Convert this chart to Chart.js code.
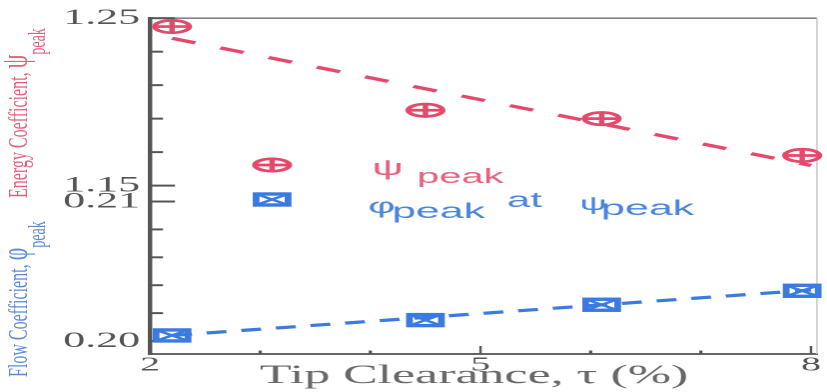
<!DOCTYPE html>
<html>
<head>
<meta charset="utf-8">
<script src="https://cdn.jsdelivr.net/npm/chart.js@4/dist/chart.umd.min.js"></script>
<style>
  html, body { margin: 0; padding: 0; background: #fff; overflow: hidden; }
  #wrap { width: 414px; height: 392px; transform: scale(1.99758, 1); transform-origin: 0 0; }
  canvas { display: block; }
</style>
</head>
<body>
<div id="wrap"><canvas id="c" width="414" height="392" style="width:414px;height:392px"></canvas></div>
<script>
// Tip clearance (%) of each measured configuration
const tipClearance = [2.2, 4.5, 6.1, 7.92];
// Peak energy coefficient, psi_peak
const psiPeak = [1.245, 1.195, 1.190, 1.168];
// Flow coefficient at psi_peak
const phiPeak = [0.2004, 0.2015, 0.2026, 0.2036];
// Straight-line trends drawn through each series
const trendX = [2.2, 8];
const psiTrend = [1.238, 1.162];
const phiTrend = [0.2004, 0.20366];
// Axis ticks and their labels (blank = unlabelled minor tick)
const xTicks = [2, 3, 4, 5, 6, 7, 8];
const xTickLabels = ['2', '', '', '5', '', '', '8'];
const psiTicks = [1.15, 1.17, 1.19, 1.21, 1.23, 1.25];
const psiTickLabels = ['1.15', '', '', '', '', '1.25'];
const phiTicks = [0.200, 0.202, 0.204, 0.206, 0.208, 0.210];
const phiTickLabels = ['0.20', '', '', '', '', '0.21'];

const RED = '#e5486a';
const BLUE = '#3b7ade';
const AXIS = '#555555';
const LABEL = '#555555';
const SERIF = '"Liberation Serif", "Times New Roman", serif';
const SANS = '"Liberation Sans", Arial, sans-serif';
const TICK_FONT = `22px ${SERIF}`;

const pts = (xs, ys) => xs.map((x, i) => ({ x, y: ys[i] }));

function circleCross(ctx, x, y, color) {
  const rx = 8.7, ry = 6.2;
  ctx.save();
  ctx.strokeStyle = color;
  ctx.lineWidth = 2.7;
  ctx.beginPath();
  ctx.ellipse(x, y, rx, ry, 0, 0, Math.PI * 2);
  ctx.stroke();
  ctx.beginPath();
  ctx.moveTo(x - rx, y); ctx.lineTo(x + rx, y);
  ctx.moveTo(x, y - ry); ctx.lineTo(x, y + ry);
  ctx.stroke();
  ctx.restore();
}

function boxCross(ctx, x, y, color) {
  const w = 16, h = 11;
  ctx.save();
  ctx.strokeStyle = color;
  ctx.lineWidth = 3.4;
  ctx.strokeRect(x - w / 2, y - h / 2, w, h);
  ctx.lineWidth = 2.2;
  ctx.beginPath();
  ctx.moveTo(x - w / 2, y - h / 2); ctx.lineTo(x + w / 2, y + h / 2);
  ctx.moveTo(x - w / 2, y + h / 2); ctx.lineTo(x + w / 2, y - h / 2);
  ctx.stroke();
  ctx.restore();
}

// Rotated axis title with a symbol and a lowered "peak" subscript
function rotatedTitle(ctx, x, y, parts) {
  ctx.save();
  ctx.translate(x, y);
  ctx.rotate(-Math.PI / 2);
  ctx.scale(1, 0.88);
  ctx.textAlign = 'left';
  ctx.textBaseline = 'alphabetic';
  let pos = 0;
  for (const p of parts) {
    ctx.font = p.font;
    ctx.fillStyle = p.color;
    ctx.fillText(p.text, pos, p.dy || 0);
    pos += ctx.measureText(p.text).width;
  }
  ctx.restore();
}

function textRun(ctx, items) {
  ctx.save();
  ctx.textAlign = 'left';
  ctx.textBaseline = 'alphabetic';
  for (const t of items) {
    ctx.font = t.font;
    ctx.fillStyle = t.color;
    ctx.fillText(t.text, t.x, t.y);
  }
  ctx.restore();
}

const decor = {
  id: 'decor',
  beforeDatasetsDraw(chart) {
    const { ctx, chartArea: a, scales } = chart;
    ctx.save();
    ctx.lineCap = 'butt';
    // top and right edges of the plot frame
    ctx.strokeStyle = '#858585';
    ctx.lineWidth = 1.6;
    ctx.beginPath(); ctx.moveTo(a.left, a.top); ctx.lineTo(a.right, a.top); ctx.stroke();
    ctx.strokeStyle = '#c8c8c8';
    ctx.lineWidth = 0.8;
    ctx.beginPath(); ctx.moveTo(a.right, a.top); ctx.lineTo(a.right, a.bottom); ctx.stroke();
    // inward tick marks on the two left axes
    ctx.strokeStyle = AXIS;
    const leftTicks = (scale, ticks, labels) => ticks.forEach((v, i) => {
      const y = scale.getPixelForValue(v);
      ctx.lineWidth = 2;
      ctx.beginPath();
      ctx.moveTo(a.left, y);
      ctx.lineTo(a.left + (labels[i] ? 12.5 : 6.5), y);
      ctx.stroke();
    });
    leftTicks(scales.yPsi, psiTicks, psiTickLabels);
    leftTicks(scales.yPhi, phiTicks, phiTickLabels);
    // labels of the lower (flow coefficient) axis, sharing the left margin
    ctx.font = TICK_FONT;
    ctx.fillStyle = LABEL;
    ctx.textAlign = 'right';
    ctx.textBaseline = 'middle';
    phiTicks.forEach((v, i) => {
      if (phiTickLabels[i]) ctx.fillText(phiTickLabels[i], a.left - 5, scales.yPhi.getPixelForValue(v));
    });
    // inward tick marks on the bottom axis
    xTicks.forEach((v, i) => {
      const x = scales.x.getPixelForValue(v);
      ctx.lineWidth = xTickLabels[i] ? 1.2 : 1.6;
      ctx.beginPath();
      ctx.moveTo(x, a.bottom);
      ctx.lineTo(x, a.bottom - (xTickLabels[i] ? 8 : 3.5));
      ctx.stroke();
    });
    ctx.restore();
  },
  afterDatasetsDraw(chart) {
    const { ctx } = chart;
    chart.getDatasetMeta(0).data.forEach(p => circleCross(ctx, p.x, p.y, RED));
    chart.getDatasetMeta(2).data.forEach(p => boxCross(ctx, p.x, p.y, BLUE));
  },
  afterDraw(chart) {
    const { ctx } = chart;
    // axis titles
    rotatedTitle(ctx, 13.5, 198, [
      { text: 'Energy Coefficient, ', font: `16px ${SERIF}`, color: '#e2607c' },
      { text: 'ψ', font: `22px ${SERIF}`, color: '#e2607c' },
      { text: 'peak', font: `14px ${SERIF}`, color: '#e2607c', dy: 10 }
    ]);
    rotatedTitle(ctx, 13.5, 377, [
      { text: 'Flow Coefficient, ', font: `16px ${SERIF}`, color: '#5a8ad8' },
      { text: 'φ', font: `22px ${SERIF}`, color: '#5a8ad8' },
      { text: 'peak', font: `14px ${SERIF}`, color: '#5a8ad8', dy: 10 }
    ]);
    textRun(ctx, [
      { text: 'Tip Clearance, τ (%)', font: `26px ${SERIF}`, color: '#686868', x: 130, y: 383 }
    ]);
    // legend
    circleCross(ctx, 136.2, 165, RED);
    boxCross(ctx, 136.2, 199.5, BLUE);
    textRun(ctx, [
      { text: 'ψ', font: `22px ${SANS}`, color: '#e8607c', x: 186.2, y: 175 },
      { text: 'peak', font: `20px ${SANS}`, color: '#e8607c', x: 208.7, y: 183 },
      { text: 'φ', font: `21px ${SANS}`, color: '#4a84de', x: 184.2, y: 213 },
      { text: 'peak', font: `21.5px ${SANS}`, color: '#4a84de', x: 196.2, y: 218 },
      { text: 'at', font: `21px ${SANS}`, color: '#4a84de', x: 253.8, y: 207 },
      { text: 'ψ', font: `19px ${SANS}`, color: '#4a84de', x: 290.3, y: 210 },
      { text: 'peak', font: `21.5px ${SANS}`, color: '#4a84de', x: 300.9, y: 215 }
    ]);
  }
};

new Chart(document.getElementById('c'), {
  type: 'scatter',
  data: {
    datasets: [
      { data: pts(tipClearance, psiPeak), yAxisID: 'yPsi', showLine: false, pointRadius: 0, pointHoverRadius: 0 },
      { data: pts(trendX, psiTrend), yAxisID: 'yPsi', showLine: true, borderColor: RED, borderWidth: 3.2,
        borderDash: [12.5, 13.5], pointRadius: 0, pointHoverRadius: 0, fill: false },
      { data: pts(tipClearance, phiPeak), yAxisID: 'yPhi', showLine: false, pointRadius: 0, pointHoverRadius: 0 },
      { data: pts(trendX, phiTrend), yAxisID: 'yPhi', showLine: true, borderColor: BLUE, borderWidth: 3.2,
        borderDash: [10, 7.5], pointRadius: 0, pointHoverRadius: 0, fill: false }
    ]
  },
  options: {
    responsive: false,
    devicePixelRatio: 2,
    animation: false,
    events: [],
    layout: { padding: { top: 17, right: 2.5, left: 0, bottom: 0 } },
    plugins: { legend: { display: false }, tooltip: { enabled: false } },
    scales: {
      x: {
        type: 'linear', min: 2, max: 8.054,
        afterBuildTicks: s => { s.ticks = xTicks.map(v => ({ value: v })); },
        afterFit: s => { s.height = 38; },
        grid: { display: false, drawTicks: false },
        border: { display: true, color: '#666666', width: 2 },
        ticks: {
          autoSkip: false, maxRotation: 0, padding: 3, color: LABEL,
          font: { family: SERIF, size: 20, lineHeight: 0.8 },
          callback: (v, i) => xTickLabels[i]
        }
      },
      yPsi: {
        type: 'linear', position: 'left', weight: 1, min: 1.0494, max: 1.25,
        afterBuildTicks: s => { s.ticks = psiTicks.map(v => ({ value: v })); },
        afterFit: s => { s.width = 75.1; },
        grid: { display: false, drawTicks: false },
        border: { display: true, color: AXIS, width: 2.2 },
        ticks: {
          autoSkip: false, padding: 5, color: LABEL,
          font: { family: SERIF, size: 22 },
          callback: (v, i) => psiTickLabels[i]
        }
      },
      yPhi: {
        type: 'linear', position: 'left', weight: 0, min: 0.19907, max: 0.22314,
        afterBuildTicks: s => { s.ticks = phiTicks.map(v => ({ value: v })); },
        afterFit: s => { s.width = 0; },
        grid: { display: false, drawTicks: false },
        border: { display: false },
        ticks: { display: false }
      }
    }
  },
  plugins: [decor]
});
</script>
</body>
</html>
